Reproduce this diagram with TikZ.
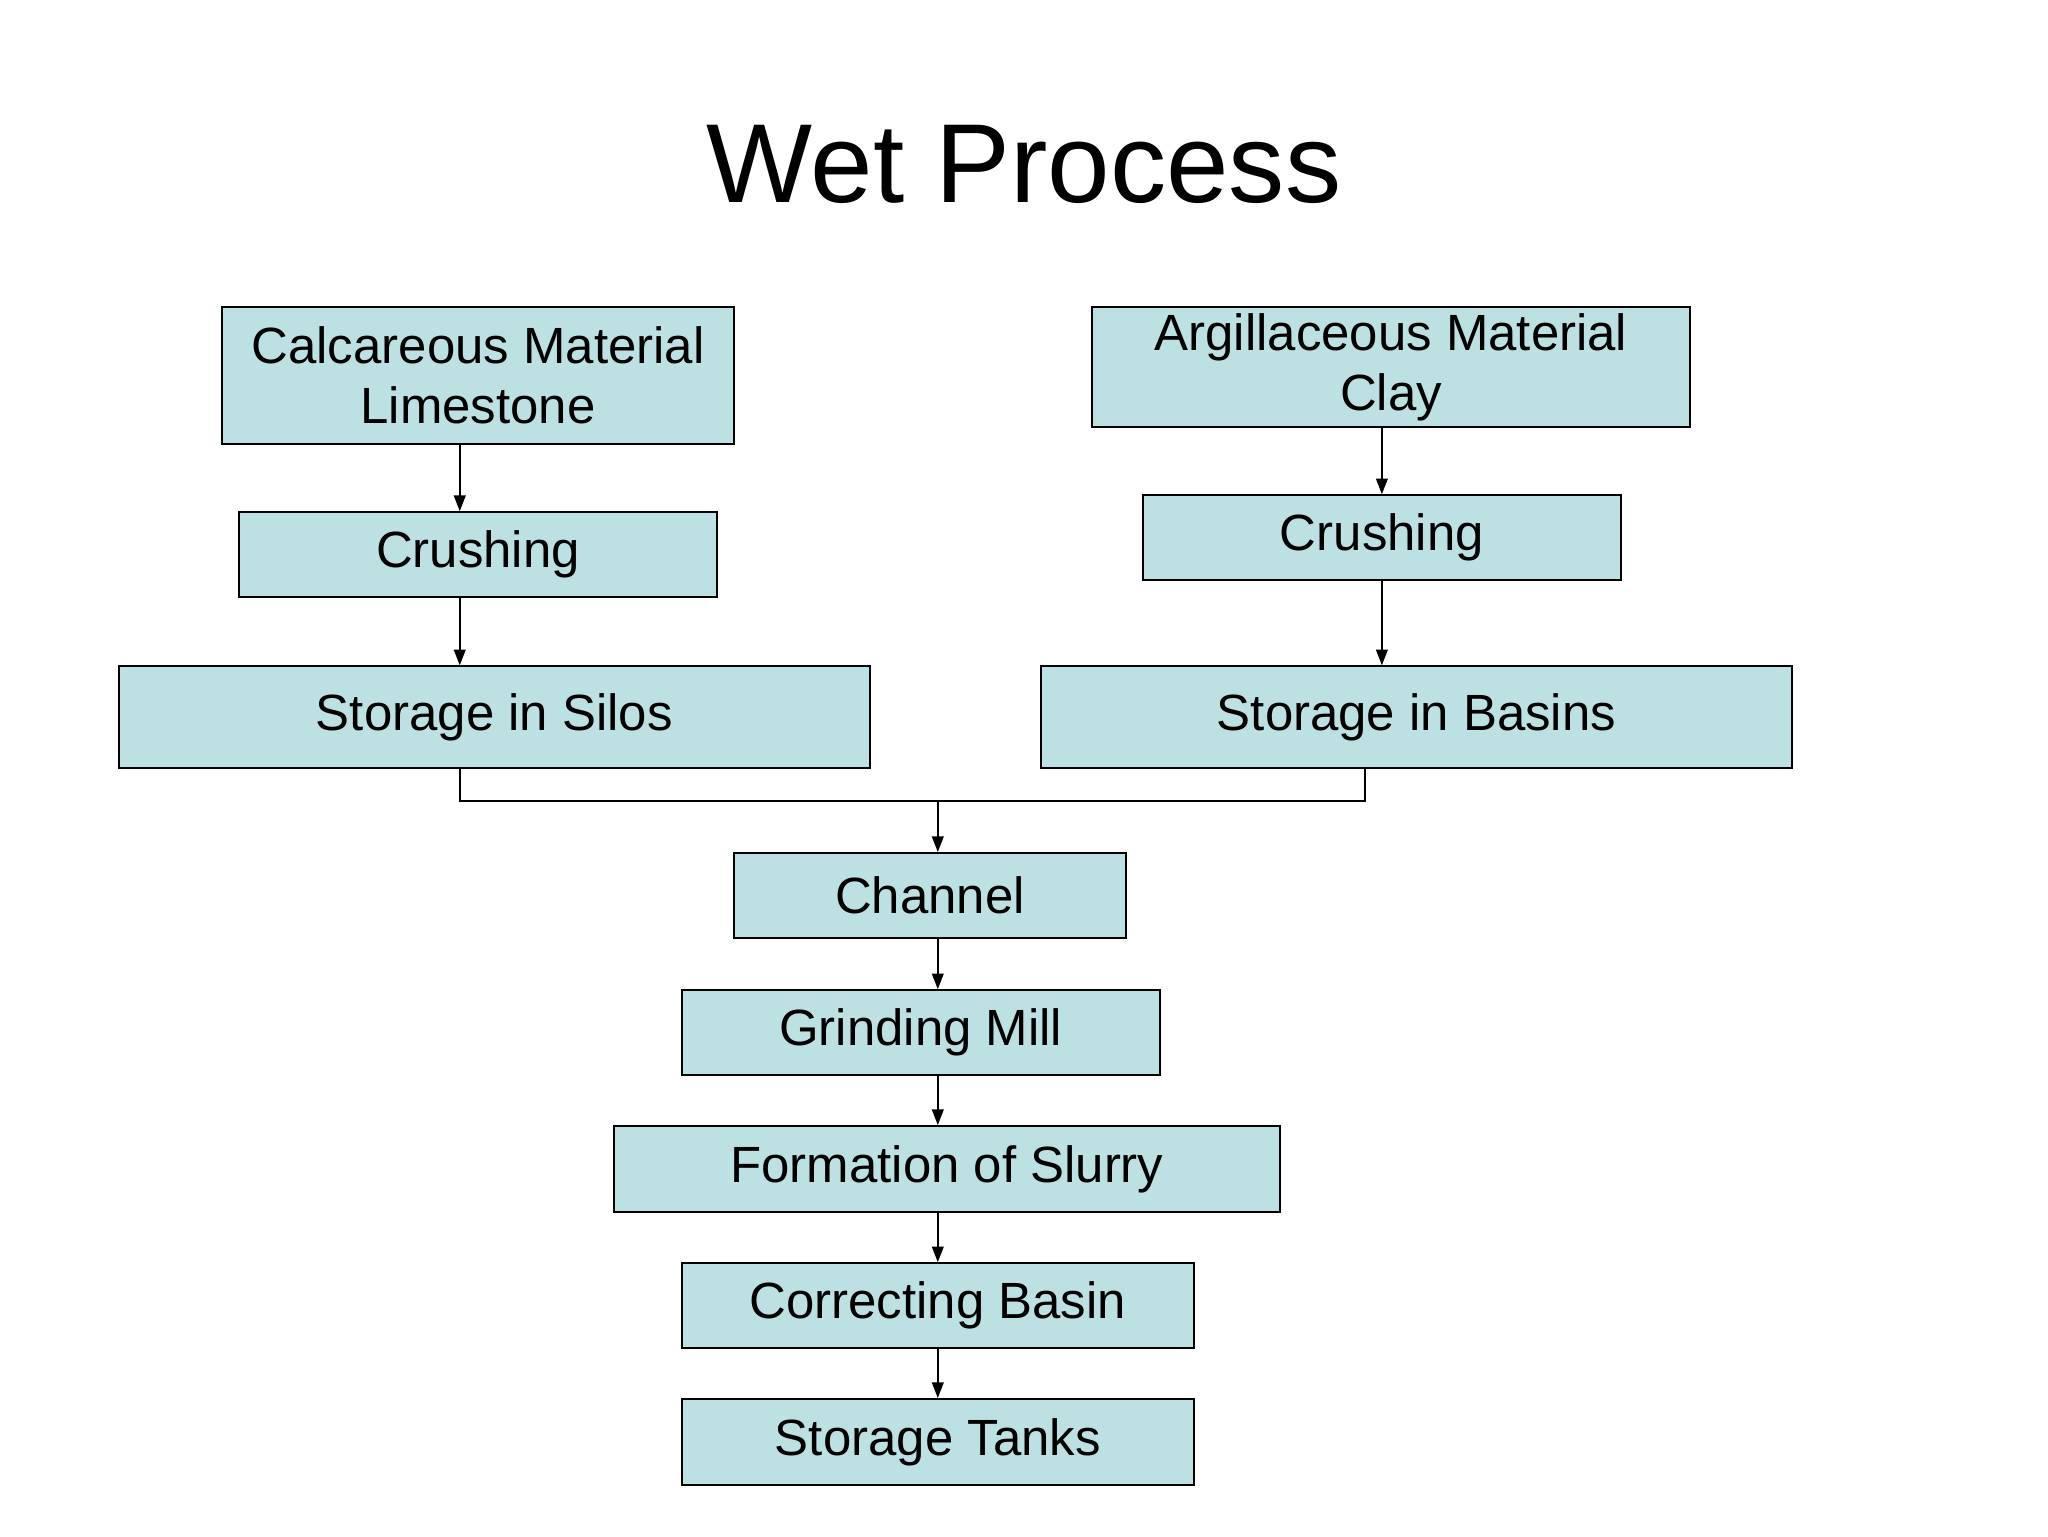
\documentclass[tikz,border=0pt]{standalone}
\usepackage{fontspec}
\setmainfont{Liberation Sans}
\usetikzlibrary{arrows.meta}
\begin{document}
\begin{tikzpicture}[x=1pt,y=-1pt,
  box/.style={draw=black,line width=1.3pt,fill=boxc,inner sep=0pt,align=center,font=\fontsize{39}{46}\selectfont},
  arr/.style={line width=1.3pt,-{Triangle[length=12pt,width=9pt]}}]
\definecolor{boxc}{HTML}{BDE0E3}
\useasboundingbox[fill=white] (0,0) rectangle (1568,1176);
\node[font=\fontsize{86}{90}\selectfont] (title) at (784,126) {Wet Process};
\newcommand\bx[6]{\node[box,minimum width={#4-#2},minimum height={#5-#3}] (#1) at ({(#2+#4)/2},{(#3+#5)/2}) {#6};}
\bx{calc}{170}{235}{562}{340}{Calcareous Material\\Limestone}
\bx{crl}{183}{392}{549}{457}{Crushing}
\bx{silo}{91}{510}{666}{588}{Storage in Silos}
\bx{arg}{836}{235}{1294}{327}{Argillaceous Material\\Clay}
\bx{crr}{875}{379}{1241}{444}{Crushing}
\bx{bas}{797}{510}{1372}{588}{Storage in Basins}
\bx{chan}{562}{653}{862}{718}{Channel}
\bx{grind}{522}{758}{888}{823}{Grinding Mill}
\bx{slur}{470}{862}{980}{928}{Formation of Slurry}
\bx{corr}{522}{967}{914}{1032}{Correcting Basin}
\bx{tank}{522}{1071}{914}{1137}{Storage Tanks}
\draw[arr] (calc.south -| 352,0) -- (crl.north -| 352,0);
\draw[arr] (crl.south -| 352,0) -- (silo.north -| 352,0);
\draw[arr] (arg.south -| 1058,0) -- (crr.north -| 1058,0);
\draw[arr] (crr.south -| 1058,0) -- (bas.north -| 1058,0);
\coordinate (j) at (718,613);
\draw[line width=1.3pt] (silo.south -| 352,0) |- (j) -| (bas.south -| 1045,0);
\draw[arr] (j) -- (chan.north -| j);
\draw[arr] (chan.south -| j) -- (grind.north -| j);
\draw[arr] (grind.south -| j) -- (slur.north -| j);
\draw[arr] (slur.south -| j) -- (corr.north -| j);
\draw[arr] (corr.south -| j) -- (tank.north -| j);
\end{tikzpicture}
\end{document}
